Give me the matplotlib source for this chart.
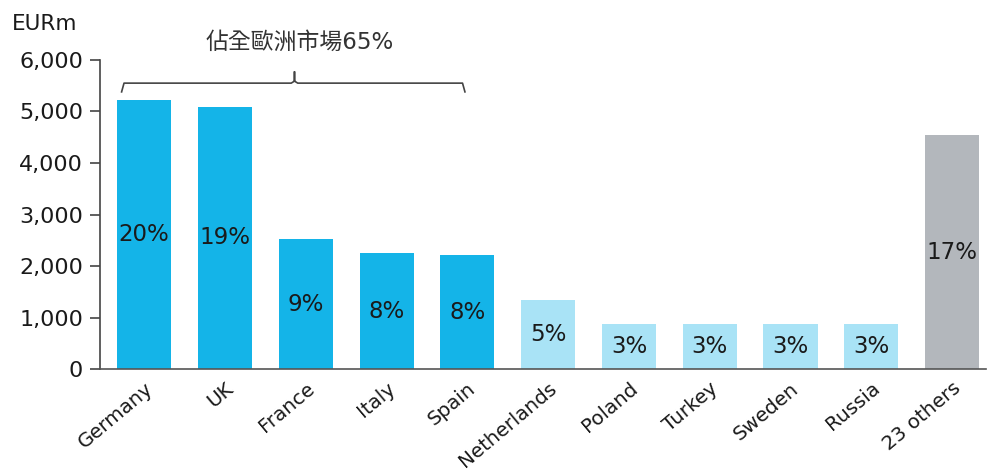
import numpy as np
import matplotlib
matplotlib.use("Agg")
import matplotlib.pyplot as plt

plt.rcParams['font.family'] = ['DejaVu Sans', 'Noto Sans CJK TC']

# 數據
countries = ['Germany', 'UK', 'France', 'Italy', 'Spain', 'Netherlands',
             'Poland', 'Turkey', 'Sweden', 'Russia', '23 others']
values = [5220, 5090, 2520, 2250, 2210, 1340, 870, 870, 870, 870, 4540]
shares = ['20%', '19%', '9%', '8%', '8%', '5%', '3%', '3%', '3%', '3%', '17%']
groups = ['top', 'top', 'top', 'top', 'top', 'mid', 'mid', 'mid', 'mid', 'mid', 'other']
color_map = {'top': '#14B4E8', 'mid': '#A9E3F6', 'other': '#B3B7BC'}
yticks = [0, 1000, 2000, 3000, 4000, 5000, 6000]
brace_text = '佔全歐洲市場65%'

fig = plt.figure(figsize=(9.88, 4.72), dpi=100)
ax = fig.add_axes([0.101, 0.218, 0.897, 0.655])

x = np.arange(len(countries))
colors = [color_map[g] for g in groups]
ax.bar(x, values, width=0.67, color=colors, zorder=2)

# 百分比標籤放在柱子中間
for xi, v, s in zip(x, values, shares):
    ax.text(xi, v / 2, s, ha='center', va='center', fontsize=16.5, color='#1a1a1a')

ax.set_ylim(0, 6000)
ax.set_xlim(-0.55, 10.42)
ax.set_yticks(yticks)
ax.set_yticklabels([f'{t:,}' for t in yticks], fontsize=16, color='#1a1a1a')
ax.set_xticks(x)
ax.set_xticklabels(countries, rotation=40, ha='right', rotation_mode='anchor',
                   fontsize=14.3, color='#1a1a1a')
ax.tick_params(axis='x', length=0, pad=7)
ax.tick_params(axis='y', direction='out', length=7, width=1.2, color='#444444', pad=5)

for sp in ['top', 'right']:
    ax.spines[sp].set_visible(False)
ax.spines['left'].set_color('#444444')
ax.spines['left'].set_linewidth(1.2)
ax.spines['bottom'].set_color('#555555')
ax.spines['bottom'].set_linewidth(1.2)

# 大括號
bx0, bx1, bmid = -0.28, 3.97, 1.86
ylow, yline, ytip = 5380, 5550, 5770
ax.plot([bx0, bx0 + 0.03, bmid - 0.04, bmid, bmid, bmid, bmid + 0.04, bx1 - 0.03, bx1],
        [ylow, yline, yline, yline + 40, ytip, yline + 40, yline, yline, ylow],
        color='#444444', lw=1.2, clip_on=False)
ax.text(bmid + 0.06, 6350, brace_text, ha='center', va='center', fontsize=16.5,
        color='#333333', clip_on=False)

fig.text(0.012, 0.95, 'EURm', fontsize=15.5, color='#1a1a1a', va='center', ha='left')

fig.savefig('out.png', dpi=100)
